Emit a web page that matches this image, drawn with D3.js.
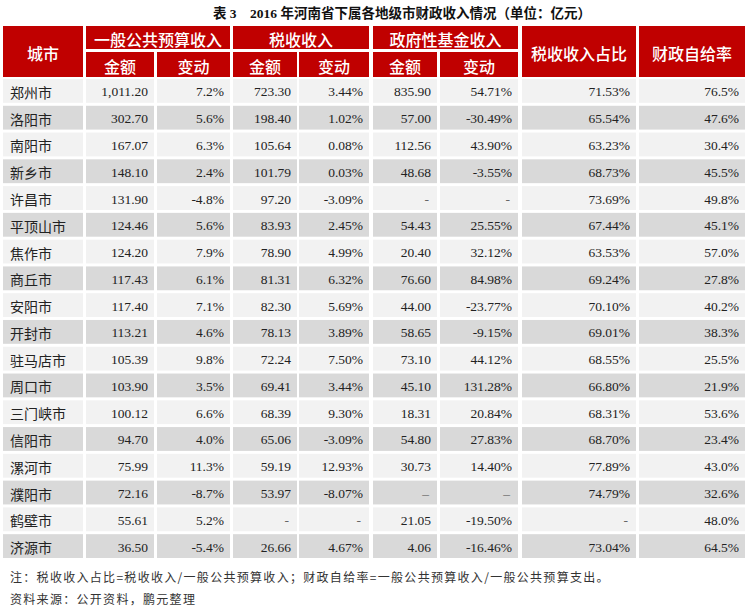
<!DOCTYPE html>
<html>
<head>
  <meta charset="utf-8">
  <title>2016 河南省下属各地级市财政收入情况</title>
  <script src="https://cdn.jsdelivr.net/npm/d3@7"></script>
  <style>
    body { margin: 0; background: #fff; }
    text { font-family: "Noto Sans CJK SC", sans-serif; }
    .num { font-family: "Liberation Serif", "Times New Roman", serif; font-size: 13.5px; fill: #222; }
    .city { font-size: 14px; fill: #222; }
    .hd { font-size: 16px; fill: #fff; font-weight: 500; }
    .note { font-size: 12px; fill: #333; letter-spacing: 1.3px; }
  </style>
</head>
<body>
<svg id="mainsvg" width="749" height="608"></svg>
<script>
  // data (null = "-")
  const cities = ['郑州市','洛阳市','南阳市','新乡市','许昌市','平顶山市','焦作市','商丘市','安阳市',
                  '开封市','驻马店市','周口市','三门峡市','信阳市','漯河市','濮阳市','鹤壁市','济源市'];
  const budgetAmt = [1011.20, 302.70, 167.07, 148.10, 131.90, 124.46, 124.20, 117.43, 117.40,
                     113.21, 105.39, 103.90, 100.12, 94.70, 75.99, 72.16, 55.61, 36.50];
  const budgetChg = [7.2, 5.6, 6.3, 2.4, -4.8, 5.6, 7.9, 6.1, 7.1, 4.6, 9.8, 3.5, 6.6, 4.0, 11.3, -8.7, 5.2, -5.4];
  const taxAmt = [723.30, 198.40, 105.64, 101.79, 97.20, 83.93, 78.90, 81.31, 82.30,
                  78.13, 72.24, 69.41, 68.39, 65.06, 59.19, 53.97, null, 26.66];
  const taxChg = [3.44, 1.02, 0.08, 0.03, -3.09, 2.45, 4.99, 6.32, 5.69, 3.89, 7.50, 3.44, 9.30, -3.09, 12.93, -8.07, null, 4.67];
  const fundAmt = [835.90, 57.00, 112.56, 48.68, null, 54.43, 20.40, 76.60, 44.00,
                   58.65, 73.10, 45.10, 18.31, 54.80, 30.73, null, 21.05, 4.06];
  const fundChg = [54.71, -30.49, 43.90, -3.55, null, 25.55, 32.12, 84.98, -23.77,
                   -9.15, 44.12, 131.28, 20.84, 27.83, 14.40, null, -19.50, -16.46];
  const taxShare = [71.53, 65.54, 63.23, 68.73, 73.69, 67.44, 63.53, 69.24, 70.10,
                    69.01, 68.55, 66.80, 68.31, 68.70, 77.89, 74.79, null, 73.04];
  const selfRate = [76.5, 47.6, 30.4, 45.5, 49.8, 45.1, 57.0, 27.8, 40.2,
                    38.3, 25.5, 21.9, 53.6, 23.4, 43.0, 32.6, 48.0, 64.5];
  // 濮阳 uses a long dash for its missing fund figures
  const dashLong = ['濮阳市'];

  const groupHeads = ['一般公共预算收入', '税收收入', '政府性基金收入'];
  const subHeads = ['金额', '变动'];

  const title = '表 3　2016 年河南省下属各地级市财政收入情况（单位：亿元）';
  const notes = ['注：税收收入占比=税收收入/一般公共预算收入；财政自给率=一般公共预算收入/一般公共预算支出。',
                 '资料来源：公开资料，鹏元整理'];

  // column edges (left/right of each cell, 3px white gaps between)
  const colL = [3, 86, 157, 233, 299, 373, 440, 522, 639];
  const colR = [83, 154, 230, 297, 369, 437, 518, 636, 745];

  const fmtAmt = d3.format(',.2f');
  const fix = s => s.replace('\u2212', '-');
  const pct = n => (v => v == null ? null : fix(d3.format('.' + n + 'f')(v)) + '%');
  const amt = v => v == null ? null : fmtAmt(v);
  const valueCols = [
    [budgetAmt, amt], [budgetChg, pct(1)],
    [taxAmt, amt], [taxChg, pct(2)],
    [fundAmt, amt], [fundChg, pct(2)],
    [taxShare, pct(2)], [selfRate, pct(1)]
  ];

  const red = '#c00000';
  const svg = d3.select('#mainsvg');

  svg.append('text')
    .attr('x', 402).attr('y', 13)
    .attr('text-anchor', 'middle').attr('dominant-baseline', 'central')
    .style('font-family', '"Liberation Serif", "Noto Sans CJK SC", serif')
    .style('font-size', '13.5px').style('font-weight', 'bold').style('fill', '#111')
    .text(title);

  // header
  const hd = svg.append('g');
  const top1 = 26, bot1 = 49, top2 = 52, bot2 = 77;
  function headCell(x0, x1, y0, y1, label) {
    hd.append('rect').attr('x', x0).attr('y', y0).attr('width', x1 - x0).attr('height', y1 - y0).attr('fill', red);
    hd.append('text').attr('class', 'hd')
      .attr('x', (x0 + x1) / 2).attr('y', (y0 + y1) / 2 + 1)
      .attr('text-anchor', 'middle').attr('dominant-baseline', 'central')
      .text(label);
  }
  headCell(colL[0], colR[0], top1, bot2, '城市');
  groupHeads.forEach((g, i) => {
    headCell(colL[1 + 2 * i], colR[2 + 2 * i], top1, bot1, g);
    subHeads.forEach((s, j) => headCell(colL[1 + 2 * i + j], colR[1 + 2 * i + j], top2, bot2, s));
  });
  headCell(colL[7], colR[7], top1, bot2, '税收收入占比');
  headCell(colL[8], colR[8], top1, bot2, '财政自给率');

  // body rows
  const y = d3.scaleBand().domain(cities).range([79, 558]).paddingInner(0.11);

  const rows = svg.append('g').selectAll('g')
    .data(cities)
    .join('g')
    .attr('transform', d => `translate(0,${y(d)})`);

  rows.each(function (city, ri) {
    const row = d3.select(this);
    const fill = ri % 2 === 0 ? '#f2f2f2' : '#d9d9d9';
    colL.forEach((x0, ci) => {
      row.append('rect').attr('x', x0).attr('y', 0)
        .attr('width', colR[ci] - x0).attr('height', y.bandwidth())
        .attr('fill', fill);
    });
    row.append('text').attr('class', 'city')
      .attr('x', colL[0] + 7).attr('y', y.bandwidth() / 2 + 1)
      .attr('dominant-baseline', 'central')
      .text(city);
    valueCols.forEach(([arr, f], k) => {
      const s = f(arr[ri]);
      const missing = s == null;
      row.append('text').attr('class', 'num')
        .attr('x', colR[k + 1] - (missing ? 8 : 6)).attr('y', y.bandwidth() / 2 + 1)
        .attr('text-anchor', 'end').attr('dominant-baseline', 'central')
        .style('fill', missing ? '#666' : null)
        .text(missing ? (dashLong.includes(city) ? '\u2013' : '-') : s);
    });
  });

  svg.append('g').selectAll('text')
    .data(notes)
    .join('text')
    .attr('class', 'note')
    .attr('x', 10).attr('y', (d, i) => 576 + i * 22)
    .attr('dominant-baseline', 'central')
    .text(d => d);
</script>
</body>
</html>
